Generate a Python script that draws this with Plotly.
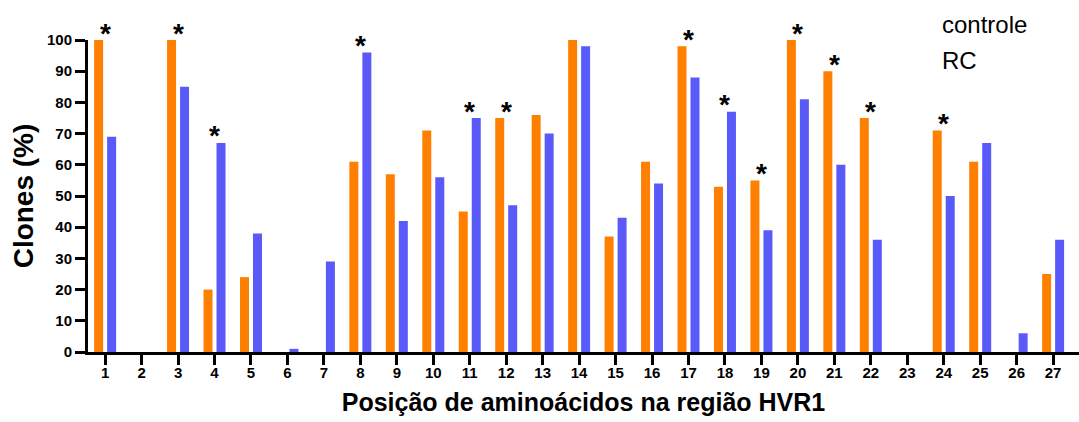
import plotly.graph_objects as go

# Amino-acid positions along HVR1
positions = list(range(1, 28))
tick_labels = [str(p) for p in positions]

# Percentage of clones per position
controle = [100, 0, 100, 20, 24, 0, 0, 61, 57, 71, 45, 75, 76, 100, 37, 61, 98,
            53, 55, 100, 90, 75, 0, 71, 61, 0, 25]
rc = [69, 0, 85, 67, 38, 1, 29, 96, 42, 56, 75, 47, 70, 98, 43, 54, 88,
      77, 39, 81, 60, 36, 0, 50, 67, 6, 36]

# Positions with a significant difference
significant = [1, 3, 4, 8, 11, 12, 17, 18, 19, 20, 21, 22, 24]

ORANGE = "#FF8000"
BLUE = "#5A5AF8"
FONT = "Liberation Sans, Arial, sans-serif"

fig = go.Figure()
fig.add_trace(go.Bar(x=positions, y=controle, name="controle",
                     marker=dict(color=ORANGE, line=dict(width=0))))
fig.add_trace(go.Bar(x=positions, y=rc, name="RC",
                     marker=dict(color=BLUE, line=dict(width=0))))

for p in significant:
    top = max(controle[p - 1], rc[p - 1])
    fig.add_annotation(x=p, y=top, text="<b>*</b>", showarrow=False,
                       yanchor="middle", yshift=7,
                       font=dict(family=FONT, size=28, color="black"))

# Text-only legend in the upper right
fig.add_annotation(xref="paper", yref="paper", x=0.86, y=1.05, xanchor="left",
                   yanchor="middle", text="controle", showarrow=False,
                   font=dict(family=FONT, size=24, color="black"))
fig.add_annotation(xref="paper", yref="paper", x=0.86, y=0.935, xanchor="left",
                   yanchor="middle", text="RC", showarrow=False,
                   font=dict(family=FONT, size=24, color="black"))

fig.update_layout(
    width=1079, height=422,
    margin=dict(l=88, r=0, t=40, b=70),
    paper_bgcolor="white", plot_bgcolor="white",
    barmode="group", bargap=0.287, bargroupgap=0.308,
    showlegend=False,
    font=dict(family=FONT, color="black"),
)
fig.update_xaxes(
    range=[0.53, 27.71], tickmode="array", tickvals=positions, ticktext=tick_labels,
    showline=True, linecolor="black", linewidth=3,
    ticks="outside", ticklen=10, tickwidth=3, tickcolor="black",
    ticklabelstandoff=-5,
    tickfont=dict(family=FONT, size=15, color="black", weight="bold"),
    showgrid=False, zeroline=False,
    title=dict(text="<b>Posição de aminoácidos na região HVR1</b>",
               font=dict(family=FONT, size=25, color="black"), standoff=14),
)
fig.update_yaxes(
    range=[0, 100], tickvals=list(range(0, 101, 10)),
    showline=True, linecolor="black", linewidth=3,
    ticks="outside", ticklen=10, tickwidth=3, tickcolor="black",
    tickfont=dict(family=FONT, size=15, color="black", weight="bold"),
    showgrid=False, zeroline=False,
    title=dict(text="<b>Clones (%)</b>",
               font=dict(family=FONT, size=28, color="black"), standoff=6),
)

fig.write_html("out.html")
